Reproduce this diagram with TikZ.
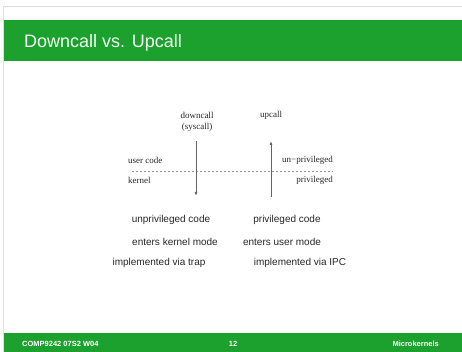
\documentclass[tikz,border=0pt]{standalone}
\usepackage{fontspec}
\setmainfont{Liberation Sans}
\newfontfamily\figserif{Liberation Serif}
\definecolor{slidegreen}{RGB}{28,161,46}
\definecolor{framegray}{RGB}{222,222,222}
\definecolor{linegray}{RGB}{100,100,100}
\tikzset{
  figtext/.style={font=\figserif\fontsize{9}{10}\selectfont, text=black!85, inner sep=0pt},
  bodytext/.style={font=\fontsize{10}{12}\selectfont, text=black!85, inner sep=0pt},
  foottext/.style={font=\bfseries\fontsize{7.5}{9}\selectfont, text=white, inner sep=0pt},
  callarrow/.style={draw=linegray, line width=0.7pt, -{Latex[length=4pt,width=2.8pt]}},
}
\usetikzlibrary{arrows.meta}
\begin{document}
\begin{tikzpicture}[x={(1pt,0)}, y={(0,-1pt)}]
  \useasboundingbox (0,0) rectangle (462,352);
  % slide frame
  \fill[framegray] (3,6) rectangle (462,7.3);
  \fill[framegray] (3,6) rectangle (4.3,352);
  % title bar
  \fill[slidegreen] (4.3,20) rectangle (462,61);
  \node[anchor=west, inner sep=0pt, text=white!95!green, font=\fontsize{18}{20}\selectfont] (title) at (24,43) {Downcall vs. Upcall};
  % footer bar
  \fill[slidegreen] (4.3,333) rectangle (462,352);
  \node[foottext, anchor=west] (fl) at (22,344) {COMP9242 07S2 W04};
  \node[foottext] (fc) at (233,344) {12};
  \node[foottext, anchor=east] (fr) at (439,344) {Microkernels};

  % figure
  \node[figtext] (down) at (197,115) {downcall};
  \node[figtext] (sys) at (197,127) {(syscall)};
  \node[figtext] (up) at (271,115) {upcall};
  \node[figtext, anchor=west] (uc) at (128,160) {user code};
  \node[figtext, anchor=west] (kn) at (128,180) {kernel};
  \node[figtext, anchor=east] (unp) at (333,160) {un−privileged};
  \node[figtext, anchor=east] (prv) at (333,180) {privileged};

  \coordinate (dl) at (132,171);
  \coordinate (dr) at (333,171);
  \draw[draw=black!40, line width=0.6pt, dash pattern=on 2pt off 2pt] (dl) -- (dr);

  \coordinate (d1) at (196,141);
  \coordinate (d2) at (196,196);
  \coordinate (u1) at (271,197);
  \coordinate (u2) at (271,141);
  \draw[callarrow] (d1) -- (d2);
  \draw[callarrow] (u1) -- (u2);

  % descriptions
  \node[bodytext] (l1) at (171,220) {unprivileged code};
  \node[bodytext] (r1) at (287,220) {privileged code};
  \node[bodytext] (l2) at (175,242) {enters kernel mode};
  \node[bodytext] (r2) at (282,242) {enters user mode};
  \node[bodytext] (l3) at (159,263) {implemented via trap};
  \node[bodytext] (r3) at (300,263) {implemented via IPC};
\end{tikzpicture}
\end{document}
